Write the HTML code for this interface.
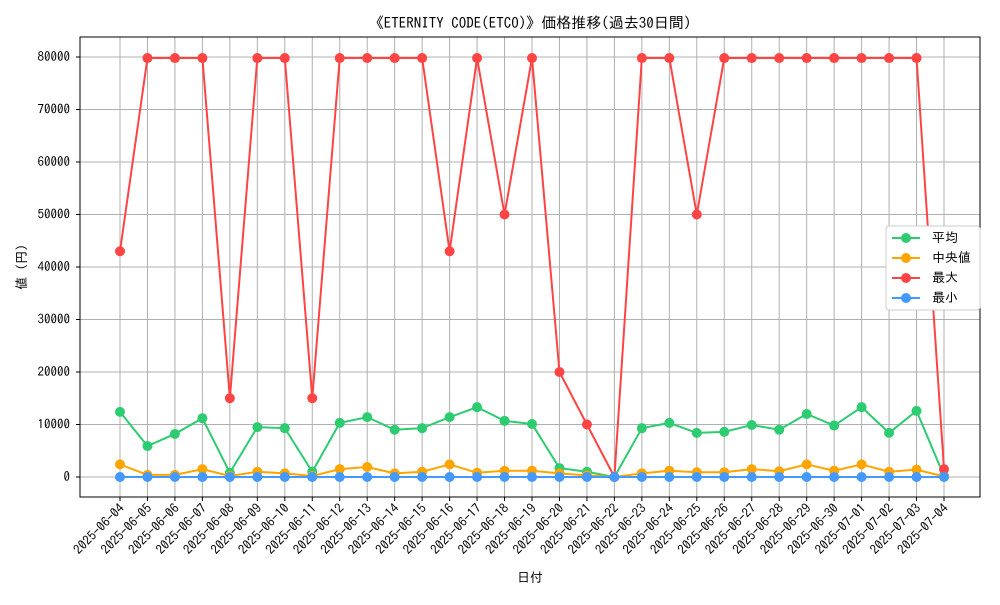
<!DOCTYPE html>
<html><head><meta charset="utf-8">
<style>
body{margin:0;background:#fff;}
svg text{font-family:"IPAGothic","Noto Sans CJK JP",sans-serif;fill:#000;}
</style></head>
<body>
<svg id="chart" width="1000" height="600" xmlns="http://www.w3.org/2000/svg">
<rect width="1000" height="600" fill="#fff"/>
<text x="530" y="28" font-size="15" text-anchor="middle">《ETERNITY CODE(ETCO)》価格推移(過去30日間)</text>
<g id="grid"></g>
<g id="axes"></g>
<g id="series"></g>
<rect x="80" y="37" width="900" height="460" fill="none" stroke="#000" stroke-width="1"/>
<text x="530" y="582" font-size="13" text-anchor="middle">日付</text>
<text x="0" y="0" font-size="13" text-anchor="middle" transform="translate(26,267) rotate(-90)">値 (円)</text>
<g id="legend"></g>
</svg>
<script>
const dates=["2025-06-04","2025-06-05","2025-06-06","2025-06-07","2025-06-08","2025-06-09","2025-06-10","2025-06-11","2025-06-12","2025-06-13","2025-06-14","2025-06-15","2025-06-16","2025-06-17","2025-06-18","2025-06-19","2025-06-20","2025-06-21","2025-06-22","2025-06-23","2025-06-24","2025-06-25","2025-06-26","2025-06-27","2025-06-28","2025-06-29","2025-06-30","2025-07-01","2025-07-02","2025-07-03","2025-07-04"];
const avgVals=[12400,5900,8200,11200,800,9500,9300,1000,10300,11400,9000,9300,11400,13300,10700,10100,1700,1000,0,9300,10300,8400,8600,9900,9000,12000,9800,13300,8400,12600,200];
const medVals=[2400,400,400,1500,200,1000,700,200,1500,1900,700,1000,2400,800,1200,1200,700,300,0,700,1200,900,900,1500,1100,2400,1200,2400,1000,1400,100];
const maxVals=[43000,79800,79800,79800,15000,79800,79800,15000,79800,79800,79800,79800,43000,79800,50000,79800,20000,10000,0,79800,79800,50000,79800,79800,79800,79800,79800,79800,79800,79800,1500];
const minVals=[0,0,0,0,0,0,0,0,0,0,0,0,0,0,0,0,0,0,0,0,0,0,0,0,0,0,0,0,0,0,0];
const yTicks=[0,10000,20000,30000,40000,50000,60000,70000,80000];
const seriesNames=["平均","中央値","最大","最小"];

const NS="http://www.w3.org/2000/svg";
const x=i=>120+i*(824/(dates.length-1));
const y=v=>477-v*420/80000;
function mk(tag,attrs,parent){const e=document.createElementNS(NS,tag);for(const k in attrs)e.setAttribute(k,attrs[k]);parent.appendChild(e);return e;}
const grid=document.getElementById('grid'),axes=document.getElementById('axes'),ser=document.getElementById('series'),leg=document.getElementById('legend');
yTicks.forEach(t=>{
  const l=mk('line',{x1:80,x2:980,y1:y(t),y2:y(t),stroke:'#b0b0b0','stroke-width':1},grid);
  
  
  mk('line',{x1:76,x2:80,y1:y(t),y2:y(t),stroke:'#000'},axes);
  const tx=mk('text',{x:70,y:y(t)+4,'font-size':13,'text-anchor':'end'},axes);
  tx.textContent=t;
  
  
});
dates.forEach((d,i)=>{
  const l=mk('line',{x1:x(i),x2:x(i),y1:37,y2:497,stroke:'#b0b0b0','stroke-width':1},grid);
  
  
  mk('line',{x1:x(i),x2:x(i),y1:497,y2:501,stroke:'#000'},axes);
  const tx=mk('text',{x:0,y:0,'font-size':13,'text-anchor':'end',transform:`translate(${x(i)+5},${509}) rotate(-45)`},axes);
  tx.textContent=d;
  
  
});
const all=[[avgVals,'#2ecc71','avg'],[medVals,'#ffa500','median'],[maxVals,'#ff4444','max'],[minVals,'#4499ff','min']];
all.forEach(([vals,c,n])=>{
  const g=mk('g',{},ser);
  
  
  const p=mk('polyline',{points:vals.map((v,i)=>x(i)+','+y(v)).join(' '),fill:'none',stroke:c,'stroke-width':2},g);
  
  
  vals.forEach((v,i)=>{
    const cc=mk('circle',{cx:x(i),cy:y(v),r:5,fill:c},g);
    
    
  });
});
mk('rect',{x:886,y:226,width:94,height:84,fill:'#fff',stroke:'#ccc',rx:3},leg);
all.forEach(([v,c,n],k)=>{
  const g=mk('g',{},leg);
  
  
  const yy=238+k*20;
  mk('line',{x1:892,x2:920,y1:yy,y2:yy,stroke:c,'stroke-width':2},g);
  mk('circle',{cx:906,cy:yy,r:5,fill:c},g);
  const t=mk('text',{x:932,y:yy+4,'font-size':13},g);
  t.textContent=seriesNames[k];
});
</script>
</body></html>
